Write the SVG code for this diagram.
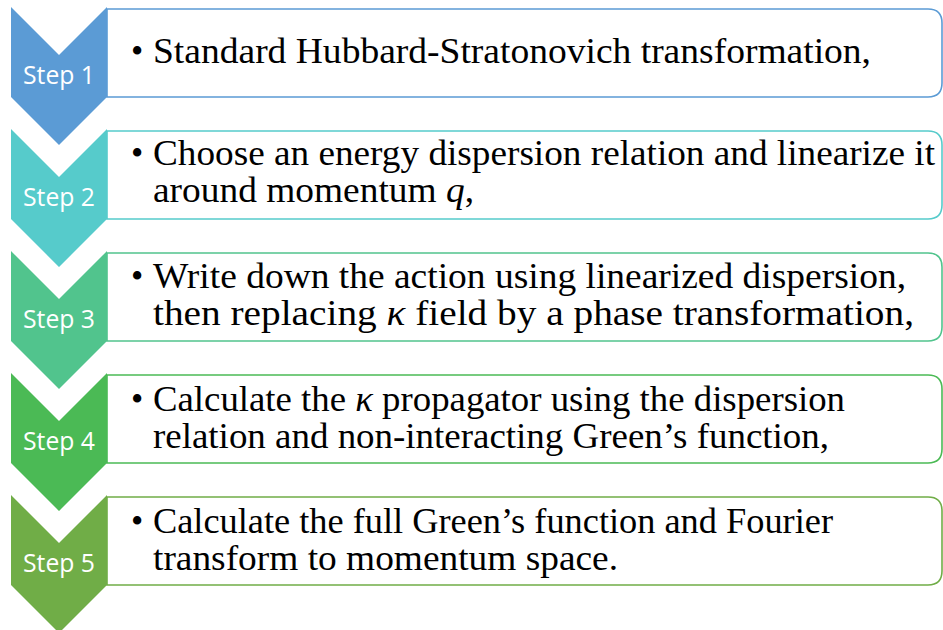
<svg xmlns="http://www.w3.org/2000/svg" width="943" height="630" viewBox="0 0 943 630">
<style>
.box{fill:#fff;stroke-width:1.6}
.step{font-family:"Open Sans","Liberation Sans",sans-serif;font-size:25px;fill:#fff;text-anchor:middle}
.txt{font-family:"Liberation Serif","DejaVu Serif",serif;font-size:35px;fill:#000}
.it{font-style:italic}
</style>
<rect width="943" height="630" fill="#fff"/>
<g id="step1">
<path class="box" stroke="#5B9BD5" d="M107,9 H928 Q942,9 942,23 V83 Q942,97 928,97 H107 Z"/>
<path fill="#5B9BD5" d="M11,7 L59,55 L107,7 V97 L59,145 L11,97 Z"/>
<text class="step" x="59" y="84" textLength="72" lengthAdjust="spacingAndGlyphs">Step 1</text>
<text class="txt" x="131" y="63">•</text>
<text class="txt" x="153" y="63" textLength="718" lengthAdjust="spacingAndGlyphs">Standard Hubbard-Stratonovich transformation,</text>
</g>
<g id="step2">
<path class="box" stroke="#56CBCB" d="M107,131 H928 Q942,131 942,145 V205 Q942,219 928,219 H107 Z"/>
<path fill="#56CBCB" d="M11,129 L59,177 L107,129 V219 L59,267 L11,219 Z"/>
<text class="step" x="59" y="206" textLength="72" lengthAdjust="spacingAndGlyphs">Step 2</text>
<text class="txt" x="131" y="165">•</text>
<text class="txt" x="153" y="165" textLength="782" lengthAdjust="spacingAndGlyphs">Choose an energy dispersion relation and linearize it</text>
<text class="txt" x="153" y="202" textLength="321" lengthAdjust="spacingAndGlyphs">around momentum <tspan class="it">q</tspan>,</text>
</g>
<g id="step3">
<path class="box" stroke="#51C48D" d="M107,253 H928 Q942,253 942,267 V327 Q942,341 928,341 H107 Z"/>
<path fill="#51C48D" d="M11,251 L59,299 L107,251 V341 L59,389 L11,341 Z"/>
<text class="step" x="59" y="328" textLength="72" lengthAdjust="spacingAndGlyphs">Step 3</text>
<text class="txt" x="131" y="288">•</text>
<text class="txt" x="153" y="288" textLength="753" lengthAdjust="spacingAndGlyphs">Write down the action using linearized dispersion,</text>
<text class="txt" x="153" y="325" textLength="761" lengthAdjust="spacingAndGlyphs">then replacing <tspan class="it">κ</tspan> field by a phase transformation,</text>
</g>
<g id="step4">
<path class="box" stroke="#4BBA55" d="M107,375 H928 Q942,375 942,389 V449 Q942,463 928,463 H107 Z"/>
<path fill="#4BBA55" d="M11,373 L59,421 L107,373 V463 L59,511 L11,463 Z"/>
<text class="step" x="59" y="450" textLength="72" lengthAdjust="spacingAndGlyphs">Step 4</text>
<text class="txt" x="131" y="411">•</text>
<text class="txt" x="153" y="411" textLength="692" lengthAdjust="spacingAndGlyphs">Calculate the <tspan class="it">κ</tspan> propagator using the dispersion</text>
<text class="txt" x="153" y="448" textLength="676" lengthAdjust="spacingAndGlyphs">relation and non-interacting Green’s function,</text>
</g>
<g id="step5">
<path class="box" stroke="#70AD47" d="M107,497 H928 Q942,497 942,511 V571 Q942,585 928,585 H107 Z"/>
<path fill="#70AD47" d="M11,495 L59,543 L107,495 V585 L59,633 L11,585 Z"/>
<text class="step" x="59" y="572" textLength="72" lengthAdjust="spacingAndGlyphs">Step 5</text>
<text class="txt" x="131" y="533">•</text>
<text class="txt" x="153" y="533" textLength="680" lengthAdjust="spacingAndGlyphs">Calculate the full Green’s function and Fourier</text>
<text class="txt" x="153" y="570" textLength="465" lengthAdjust="spacingAndGlyphs">transform to momentum space.</text>
</g>
<g id="connectors"/>
</svg>
